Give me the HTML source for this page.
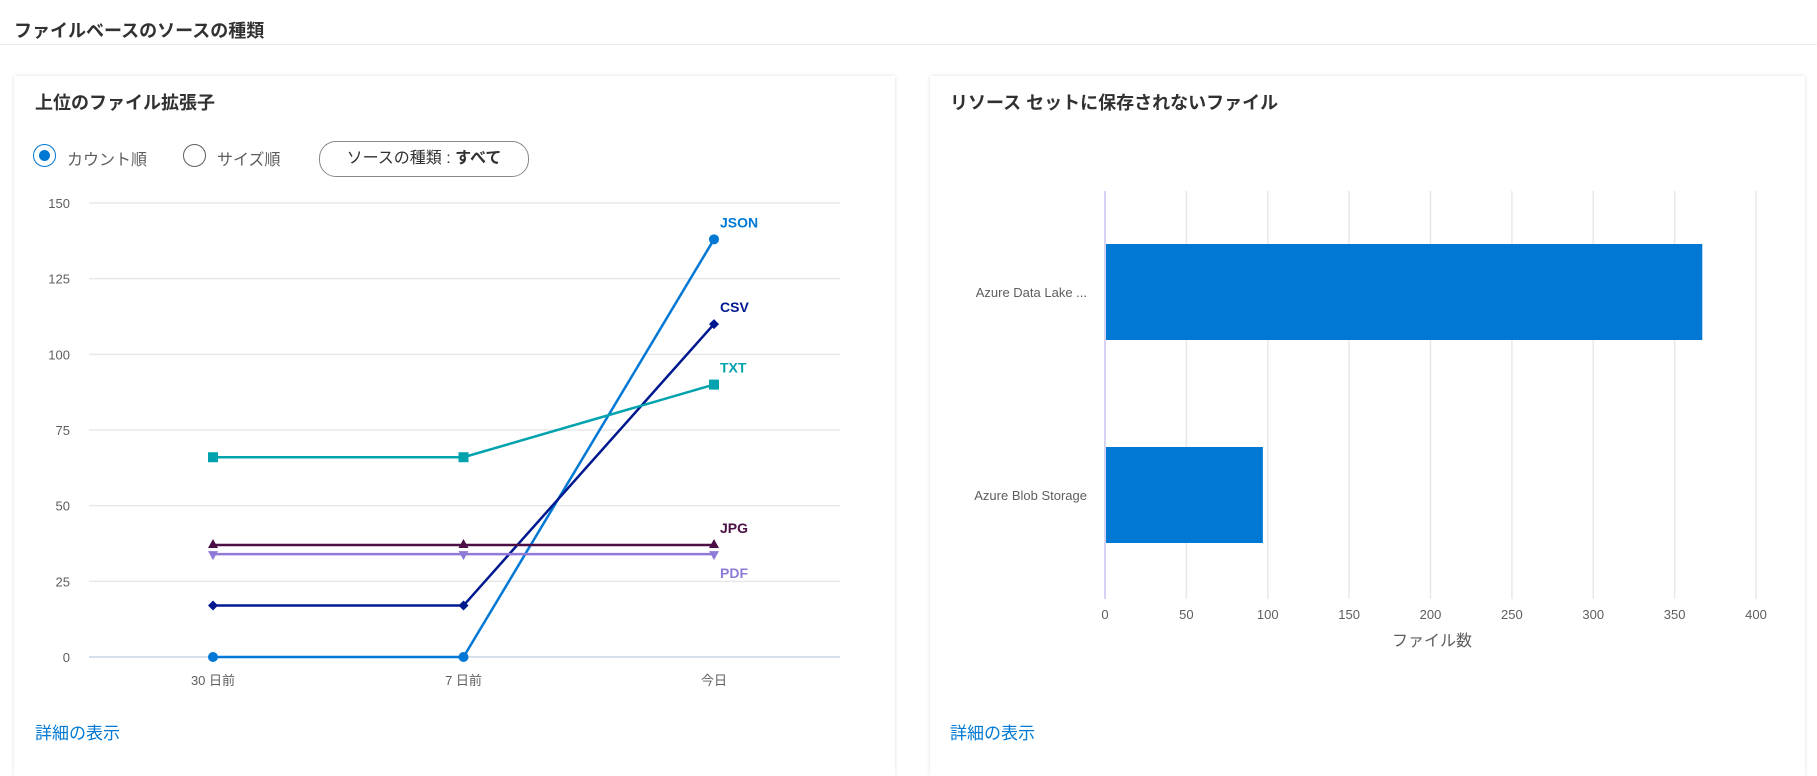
<!DOCTYPE html>
<html><head><meta charset="utf-8">
<style>
body{margin:0;width:1817px;height:757px;background:#fff;font-family:"Liberation Sans","Noto Sans CJK JP",sans-serif;position:relative;overflow:hidden;color:#323130}
.abs{position:absolute}
.card{position:absolute;top:76px;height:700px;background:#fff;box-shadow:0 0 4px rgba(0,0,0,0.12)}
.link{color:#0078d4;font-size:17px}
</style></head><body>
<div class="abs" style="left:14px;top:17px;font-size:18px;font-weight:bold;">ファイルベースのソースの種類</div>
<div class="abs" style="left:0;top:44px;width:1817px;height:1px;background:#edebe9"></div>

<div class="card" style="left:14px;width:881px"></div>
<div class="card" style="left:930px;width:875px"></div>

<div class="abs" style="left:35px;top:89px;font-size:18px;font-weight:bold">上位のファイル拡張子</div>
<div class="abs" style="left:33px;top:144px;width:21px;height:21px;border:1.5px solid #0078d4;border-radius:50%"><div style="position:absolute;left:5px;top:5px;width:11px;height:11px;border-radius:50%;background:#0078d4"></div></div>
<div class="abs" style="left:67px;top:146px;font-size:16px;color:#605e5c">カウント順</div>
<div class="abs" style="left:183px;top:144px;width:21px;height:21px;border:1.5px solid #605e5c;border-radius:50%"></div>
<div class="abs" style="left:217px;top:146px;font-size:16px;color:#605e5c">サイズ順</div>
<div class="abs" style="left:319px;top:141px;width:208px;height:34px;border:1px solid #8a8886;border-radius:17px;font-size:16px;text-align:center;line-height:34px">ソースの種類 : <b>すべて</b></div>

<div class="abs" style="left:950px;top:89px;font-size:18px;font-weight:bold">リソース セットに保存されないファイル</div>

<svg class="abs" style="left:0;top:0" width="1817" height="757" id="svg"></svg>

<div class="abs link" style="left:35px;top:719px">詳細の表示</div>
<div class="abs link" style="left:950px;top:719px">詳細の表示</div>

<script>
const lineCats=["30 日前","7 日前","今日"];
const yTicks=[0,25,50,75,100,125,150];
const seriesNames=["JSON","CSV","TXT","JPG","PDF"];
const jsonVals=[0,0,138];
const csvVals=[17,17,110];
const txtVals=[66,66,90];
const jpgVals=[37,37,37];
const pdfVals=[34,34,34];
const barCats=["Azure Data Lake ...","Azure Blob Storage"];
const barVals=[367,97];
const xTicks=[0,50,100,150,200,250,300,350,400];

const NS="http://www.w3.org/2000/svg";
const svg=document.getElementById('svg');
function mk(tag,attrs,text){const e=document.createElementNS(NS,tag);for(const k in attrs)e.setAttribute(k,attrs[k]);if(text!==undefined)e.textContent=text;svg.appendChild(e);return e;}
const yS=v=>657-(v/150)*454;
const xS=i=>213+i*250.5;
yTicks.forEach(t=>{
  const g=mk('line',{x1:89,x2:840,y1:yS(t),y2:yS(t),stroke:t===0?'#c8d6e5':'#e8e8e8','stroke-width':1.5});
  
  
  const l=mk('text',{x:70,y:yS(t)+5,'text-anchor':'end','font-size':13,fill:'#605e5c'},t);
  
  
});
lineCats.forEach((c,i)=>{
  const l=mk('text',{x:xS(i),y:685,'text-anchor':'middle','font-size':13,fill:'#605e5c'},c);
  
  
});
const allVals=[jsonVals,csvVals,txtVals,jpgVals,pdfVals];
const colors=["#0078d4","#00188f","#00a2ad","#4b0f45","#8f7ad8"];
const shapes=["circle","diamond","square","tri","tridown"];
const labelDy=[-12,-12,-12,-12,24];
allVals.forEach((vals,s)=>{
  const pts=vals.map((v,i)=>xS(i)+','+yS(v)).join(' ');
  const pl=mk('polyline',{points:pts,fill:'none',stroke:colors[s],'stroke-width':2.5});
  
  
  vals.forEach((v,i)=>{
    const x=xS(i),y=yS(v);let m;
    if(shapes[s]==='circle')m=mk('circle',{cx:x,cy:y,r:5,fill:colors[s]});
    else if(shapes[s]==='diamond')m=mk('polygon',{points:`${x},${y-5} ${x+5},${y} ${x},${y+5} ${x-5},${y}`,fill:colors[s]});
    else if(shapes[s]==='square')m=mk('rect',{x:x-5,y:y-5,width:10,height:10,fill:colors[s]});
    else if(shapes[s]==='tri')m=mk('polygon',{points:`${x},${y-6} ${x+5},${y+3} ${x-5},${y+3}`,fill:colors[s]});
    else m=mk('polygon',{points:`${x},${y+6} ${x+5},${y-3} ${x-5},${y-3}`,fill:colors[s]});
    
    
  });
  const lv=vals[vals.length-1];
  const t=mk('text',{x:xS(2)+6,y:yS(lv)+labelDy[s],'font-size':14,'font-weight':'bold',fill:colors[s]},seriesNames[s]);
  
  
});

// bar chart
const bx=v=>1105+v*1.6275;
const barTop=[244,447],barH=96;
xTicks.forEach(t=>{
  const g=mk('line',{x1:bx(t),x2:bx(t),y1:191,y2:599,stroke:t===0?'#c7c3f0':'#e8e8e8','stroke-width':1.5});
  
  
  const l=mk('text',{x:bx(t),y:619,'text-anchor':'middle','font-size':13,fill:'#605e5c'},t);
  
  
});
barCats.forEach((c,i)=>{
  const r=mk('rect',{x:bx(0)+1,y:barTop[i],width:bx(barVals[i])-bx(0)-1,height:barH,fill:'#0078d4'});
  
  
  const l=mk('text',{x:1087,y:barTop[i]+barH/2+5,'text-anchor':'end','font-size':13,fill:'#605e5c'},c);
  
  
});
const at=mk('text',{x:1432,y:646,'text-anchor':'middle','font-size':16,fill:'#605e5c'},'ファイル数');


</script>
</body></html>
